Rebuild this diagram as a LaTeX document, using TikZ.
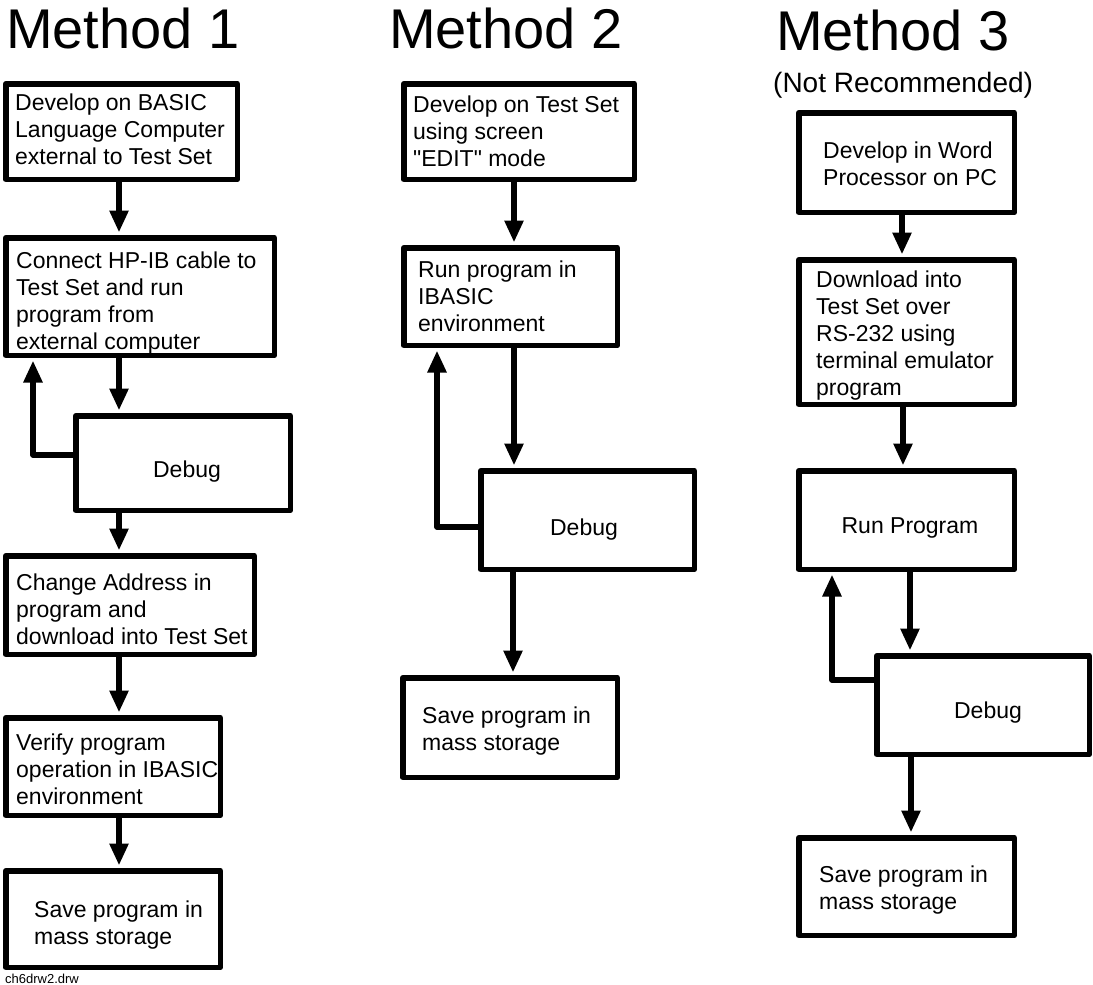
\documentclass[tikz,border=0pt]{standalone}
\usepackage{fontspec}
\setmainfont[Ligatures=TeXOff]{Liberation Sans}
\usetikzlibrary{arrows.meta}
\newcommand\mylines[1]{\begin{tabular}[t]{@{}l@{}}#1\end{tabular}}
\tikzset{
  box/.style={draw, rectangle, line width=5.5pt, line join=round, inner sep=0pt},
  txt/.style={inner sep=0pt, font=\fontsize{23}{27}\selectfont},
  ttl/.style={inner sep=0pt, anchor=base west, font=\fontsize{56}{60}\selectfont},
  arr/.style={line width=5.5pt, line join=round, -{Triangle[length=22pt,width=18pt]}, shorten >=2.5pt}
}
\begin{document}
\begin{tikzpicture}[x=1pt,y=-1pt]
\useasboundingbox (0,0) rectangle (1093,985);
% titles
\node[ttl] (t1) at (6,48) {Method 1};
\node[ttl] (t2) at (389,48) {Method 2};
\node[ttl] (t3) at (776,50) {Method 3};
\node[inner sep=0pt, anchor=base west, font=\fontsize{28}{30}\selectfont] (t3n) at (773,92) {(Not Recommended)};
\node[inner sep=0pt, anchor=base west, font=\fontsize{13}{15}\selectfont] (fn) at (5,983) {ch6drw2.drw};

% Method 1
\node[box, minimum width=231.5pt, minimum height=95.5pt] (m1a) at (121.5,131.5) {};
\node[txt, anchor=base west] (m1at) at (15,110) {\mylines{Develop on BASIC\\Language Computer\\external to Test Set}};
\node[box, minimum width=268.5pt, minimum height=117.5pt] (m1b) at (140,296.5) {};
\node[txt, anchor=base west] (m1bt) at (16,268) {\mylines{Connect HP-IB cable to\\Test Set and run\\program from\\external computer}};
\node[box, minimum width=214.5pt, minimum height=94.5pt] (m1c) at (183,463) {};
\node[txt, anchor=base] (m1ct) at (187,477) {Debug};
\node[box, minimum width=248.5pt, minimum height=98.5pt] (m1d) at (130,605) {};
\node[txt, anchor=base west] (m1dt) at (16,590) {\mylines{Change Address in\\program and\\download into Test Set}};
\node[box, minimum width=214.5pt, minimum height=97.5pt] (m1e) at (113,766.5) {};
\node[txt, anchor=base west] (m1et) at (16,750) {\mylines{Verify program\\operation in IBASIC\\environment}};
\node[box, minimum width=214.5pt, minimum height=96.5pt] (m1f) at (113,919) {};
\node[txt, anchor=base west] (m1ft) at (34,917) {\mylines{Save program in\\mass storage}};

\draw[arr] ([xshift=-2.5pt]m1a.south) -- ([xshift=-2.5pt]m1a.south |- m1b.north);
\draw[arr] ([xshift=-21pt]m1b.south) -- ([xshift=-21pt]m1b.south |- m1c.north);
\draw[arr] ([yshift=8pt]m1c.west) -| ([xshift=-107pt]m1b.south);
\draw[arr] ([xshift=-64pt]m1c.south) -- ([xshift=-64pt]m1c.south |- m1d.north);
\draw[arr] ([xshift=-11pt]m1d.south) -- ([xshift=-11pt]m1d.south |- m1e.north);
\draw[arr] ([xshift=6pt]m1e.south) -- ([xshift=6pt]m1e.south |- m1f.north);

% Method 2
\node[box, minimum width=230.5pt, minimum height=95.5pt] (m2a) at (519,131.5) {};
\node[txt, anchor=base west] (m2at) at (413,112) {\mylines{Develop on Test Set\\using screen\\"EDIT" mode}};
\node[box, minimum width=213.5pt, minimum height=97.5pt] (m2b) at (510.5,296.5) {};
\node[txt, anchor=base west] (m2bt) at (418,277) {\mylines{Run program in\\IBASIC\\environment}};
\node[box, minimum width=213.5pt, minimum height=98.5pt] (m2c) at (587.5,520) {};
\node[txt, anchor=base] (m2ct) at (584,535) {Debug};
\node[box, minimum width=214.5pt, minimum height=99.5pt] (m2d) at (510,727.5) {};
\node[txt, anchor=base west] (m2dt) at (422,723) {\mylines{Save program in\\mass storage}};

\draw[arr] ([xshift=-5pt]m2a.south) -- ([xshift=-5pt]m2a.south |- m2b.north);
\draw[arr] ([xshift=3.5pt]m2b.south) -- ([xshift=3.5pt]m2b.south |- m2c.north);
\draw[arr] ([yshift=-7pt]m2c.west) -| ([xshift=-73.5pt]m2b.south);
\draw[arr] ([xshift=-74.5pt]m2c.south) -- ([xshift=-74.5pt]m2c.south |- m2d.north);

% Method 3
\node[box, minimum width=215.5pt, minimum height=99.5pt] (m3a) at (906.5,162.5) {};
\node[txt, anchor=base west] (m3at) at (823,158) {\mylines{Develop in Word\\Processor on PC}};
\node[box, minimum width=215.5pt, minimum height=144.5pt] (m3b) at (906.5,332) {};
\node[txt, anchor=base west] (m3bt) at (816,287) {\mylines{Download into\\Test Set over\\RS-232 using\\terminal emulator\\program}};
\node[box, minimum width=215.5pt, minimum height=98.5pt] (m3c) at (906.5,520) {};
\node[txt, anchor=base] (m3ct) at (910,533) {Run Program};
\node[box, minimum width=212.5pt, minimum height=98.5pt] (m3d) at (983,705) {};
\node[txt, anchor=base] (m3dt) at (988,718) {Debug};
\node[box, minimum width=215.5pt, minimum height=97.5pt] (m3e) at (906.5,886.5) {};
\node[txt, anchor=base west] (m3et) at (819,882) {\mylines{Save program in\\mass storage}};

\draw[arr] ([xshift=-4.5pt]m3a.south) -- ([xshift=-4.5pt]m3a.south |- m3b.north);
\draw[arr] ([xshift=-3.5pt]m3b.south) -- ([xshift=-3.5pt]m3b.south |- m3c.north);
\draw[arr] ([xshift=3.5pt]m3c.south) -- ([xshift=3.5pt]m3c.south |- m3d.north);
\draw[arr] ([yshift=25pt]m3d.west) -| ([xshift=-74.5pt]m3c.south);
\draw[arr] ([xshift=-72pt]m3d.south) -- ([xshift=-72pt]m3d.south |- m3e.north);
\end{tikzpicture}
\end{document}
